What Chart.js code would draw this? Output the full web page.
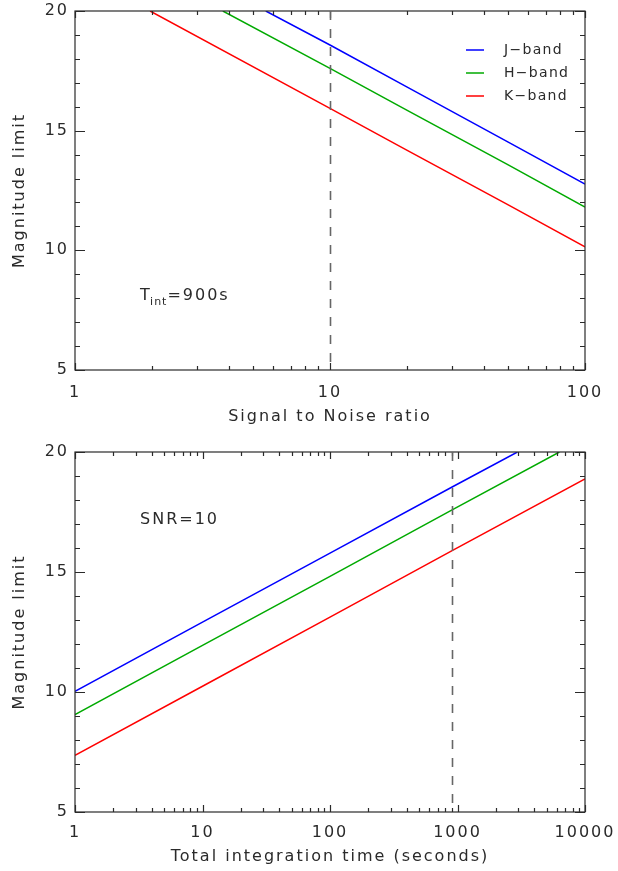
<!DOCTYPE html>
<html>
<head>
<meta charset="utf-8">
<script src="https://cdn.jsdelivr.net/npm/chart.js@4"></script>
<style>
  html, body { margin: 0; padding: 0; background: #fff; }
  .box { position: relative; width: 618px; }
  #top { height: 435px; }
  #bottom { height: 436px; }
</style>
</head>
<body>
<div class="box" id="top"><canvas id="grafSnr"></canvas></div>
<div class="box" id="bottom"><canvas id="grafTempo"></canvas></div>
<script>
// dados (painel de cima: limite vs SNR, T_int = 900 s)
const snrJ = [5.6, 10, 20, 50, 100];
const magJsnr = [20, 18.58, 16.83, 14.52, 12.77];
const snrH = [3.8, 10, 20, 50, 100];
const magHsnr = [20, 17.60, 15.86, 13.57, 11.81];
const snrK = [1.97, 10, 20, 50, 100];
const magKsnr = [20, 15.93, 14.19, 11.90, 10.15];

// painel de baixo: limite vs tempo total de integracao, SNR = 10
const tempoJ = [1, 10, 100, 900, 2950];
const magJtempo = [10.03, 12.91, 15.79, 18.53, 20];
const tempoH = [1, 10, 100, 900, 6300];
const magHtempo = [9.06, 11.94, 14.82, 17.58, 20];
const tempoK = [1, 10, 100, 900, 10000];
const magKtempo = [7.36, 10.24, 13.12, 15.88, 18.88];

const bandas = ['J\u2212band', 'H\u2212band', 'K\u2212band'];
const cores = ['#0000ff', '#00aa00', '#ff0000'];

const ticksSnr = [1, 10, 100];
const ticksTempo = [1, 10, 100, 1000, 10000];
const ticksMag = [5, 10, 15, 20];

const FONTE = '"DejaVu Sans", sans-serif';
const TINTA = '#2a2a2a';
const ESPACO = '2px'; // espacamento entre letras, a fonte do IDL e bem larga

function pontos(xs, ys) {
    return xs.map((v, i) => ({ x: v, y: ys[i] }));
}

function serie(i, xs, ys) {
    return {
        label: bandas[i],
        data: pontos(xs, ys),
        borderColor: cores[i],
        borderWidth: 1.5,
        pointRadius: 0,
        tension: 0,
        fill: false
    };
}

// aplica o espacamento de letras antes de medir e de desenhar
const espaco = {
    id: 'espaco',
    beforeLayout(chart) { chart.ctx.letterSpacing = ESPACO; },
    beforeDraw(chart) { chart.ctx.letterSpacing = ESPACO; }
};

// moldura com ticks para dentro nos quatro lados (estilo IDL)
const moldura = {
    id: 'moldura',
    afterDatasetsDraw(chart, args, opts) {
        const { ctx, chartArea: a, scales: { x, y } } = chart;
        ctx.save();
        ctx.strokeStyle = TINTA;
        ctx.lineWidth = 1.2;
        ctx.strokeRect(a.left, a.top, a.right - a.left, a.bottom - a.top);

        // ticks do eixo x (log): maiores nas decadas, menores 2..9
        const d0 = Math.round(Math.log10(x.min));
        const d1 = Math.round(Math.log10(x.max));
        ctx.beginPath();
        for (let d = d0; d <= d1; d++) {
            for (let k = 1; k <= 9; k++) {
                const v = k * Math.pow(10, d);
                if (v > x.max * 1.0001) break;
                const px = Math.round(x.getPixelForValue(v)) + 0.5;
                const len = k === 1 ? 7 : 4;
                ctx.moveTo(px, a.bottom); ctx.lineTo(px, a.bottom - len);
                ctx.moveTo(px, a.top); ctx.lineTo(px, a.top + len);
            }
        }
        // ticks do eixo y: maiores a cada 5, menores a cada 1
        for (let v = y.min; v <= y.max; v++) {
            const py = Math.round(y.getPixelForValue(v)) + 0.5;
            const len = (v % 5 === 0) ? 10 : 5;
            ctx.moveTo(a.left, py); ctx.lineTo(a.left + len, py);
            ctx.moveTo(a.right, py); ctx.lineTo(a.right - len, py);
        }
        ctx.stroke();

        // linha tracejada de referencia
        if (opts.linhaX) {
            const px = Math.round(x.getPixelForValue(opts.linhaX)) + 0.5;
            ctx.strokeStyle = '#666';
            ctx.lineWidth = 1.6;
            ctx.setLineDash([9, 9]);
            ctx.beginPath();
            ctx.moveTo(px, a.top);
            ctx.lineTo(px, a.bottom);
            ctx.stroke();
            ctx.setLineDash([]);
        }

        // legenda
        if (opts.legenda) {
            ctx.font = '14px ' + FONTE;
            ctx.letterSpacing = '1.3px';
            ctx.textBaseline = 'middle';
            ctx.lineWidth = 1.5;
            chart.data.datasets.forEach((ds, i) => {
                const ly = a.top + 39 + i * 23;
                ctx.strokeStyle = ds.borderColor;
                ctx.beginPath();
                ctx.moveTo(a.right - 119, ly);
                ctx.lineTo(a.right - 101, ly);
                ctx.stroke();
                ctx.fillStyle = TINTA;
                ctx.fillText(ds.label, a.right - 81, ly);
            });
        }

        // anotacao no canto
        if (opts.nota) {
            ctx.fillStyle = TINTA;
            ctx.textBaseline = 'alphabetic';
            let tx = a.left + 65;
            const ty = a.top + opts.notaY;
            ctx.font = '16px ' + FONTE;
            ctx.fillText(opts.nota[0], tx, ty);
            tx += ctx.measureText(opts.nota[0]).width;
            if (opts.nota[1]) {
                ctx.font = '11px ' + FONTE;
                ctx.letterSpacing = '1px';
                tx -= 1;
                ctx.fillText(opts.nota[1], tx, ty + 5);
                tx += ctx.measureText(opts.nota[1]).width;
                ctx.letterSpacing = ESPACO;
            }
            ctx.font = '16px ' + FONTE;
            ctx.fillText(opts.nota[2], tx, ty);
        }
        ctx.restore();
    }
};

function criarGrafico(id, datasets, xTicks, xTitulo, alturaX, padX, tituloPadX, opcoesMoldura) {
    const ctx = document.getElementById(id).getContext('2d');
    return new Chart(ctx, {
        type: 'line',
        data: { datasets: datasets },
        options: {
            responsive: true,
            maintainAspectRatio: false,
            animation: false,
            layout: { padding: { left: 0, right: 33, top: opcoesMoldura.topo, bottom: 0 } },
            plugins: {
                legend: { display: false },
                tooltip: { enabled: false },
                moldura: opcoesMoldura
            },
            scales: {
                x: {
                    type: 'logarithmic',
                    min: xTicks[0],
                    max: xTicks[xTicks.length - 1],
                    afterBuildTicks: s => { s.ticks = xTicks.map(v => ({ value: v })); },
                    afterFit: s => { s.height = alturaX; s.paddingLeft = 0; s.paddingRight = 0; },
                    grid: { display: false, drawTicks: false },
                    border: { display: false },
                    ticks: {
                        padding: padX,
                        color: TINTA,
                        maxRotation: 0,
                        font: { family: FONTE, size: 16 },
                        callback: v => String(v)
                    },
                    title: {
                        display: true,
                        text: xTitulo,
                        color: TINTA,
                        padding: { top: 0, bottom: tituloPadX },
                        font: { family: FONTE, size: 16 }
                    }
                },
                y: {
                    type: 'linear',
                    min: 5,
                    max: 20,
                    afterBuildTicks: s => { s.ticks = ticksMag.map(v => ({ value: v })); },
                    afterFit: s => { s.width = 75; s.paddingTop = 0; s.paddingBottom = 0; },
                    grid: { display: false, drawTicks: false },
                    border: { display: false },
                    ticks: {
                        padding: 6,
                        color: TINTA,
                        font: { family: FONTE, size: 16 }
                    },
                    title: {
                        display: true,
                        text: 'Magnitude limit',
                        color: TINTA,
                        padding: { top: 10, bottom: 0 },
                        font: { family: FONTE, size: 16 }
                    }
                }
            }
        },
        plugins: [espaco, moldura]
    });
}

criarGrafico('grafSnr', [
    serie(0, snrJ, magJsnr),
    serie(1, snrH, magHsnr),
    serie(2, snrK, magKsnr)
], ticksSnr, 'Signal to Noise ratio', 65, 13, 9,
    { topo: 11, linhaX: 10, legenda: true, nota: ['T', 'int', '=900s'], notaY: 289 });

criarGrafico('grafTempo', [
    serie(0, tempoJ, magJtempo),
    serie(1, tempoH, magHtempo),
    serie(2, tempoK, magKtempo)
], ticksTempo, 'Total integration time (seconds)', 59, 11, 5,
    { topo: 17, linhaX: 900, legenda: false, nota: ['SNR=10', '', ''], notaY: 72 });
</script>
</body>
</html>
